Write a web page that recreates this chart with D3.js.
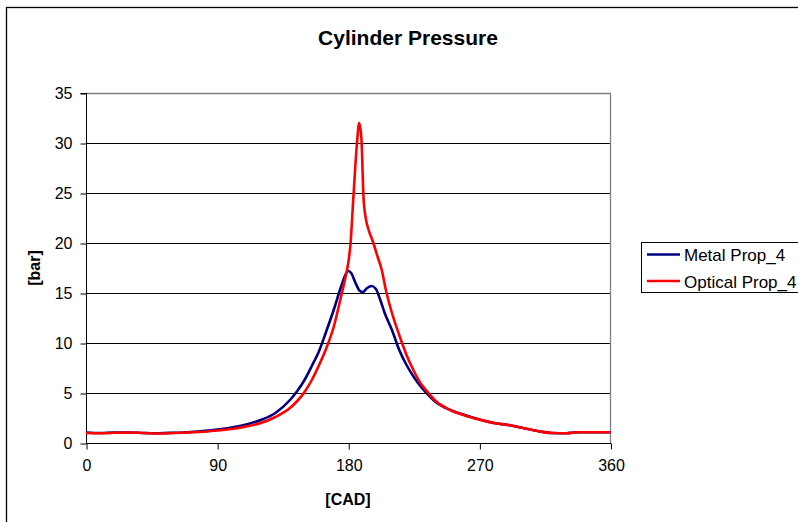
<!DOCTYPE html>
<html><head><meta charset="utf-8">
<script src="https://cdn.jsdelivr.net/npm/d3@7"></script>
<style>html,body{margin:0;padding:0;background:#fff;}svg{display:block;font-family:"Liberation Sans",Arial,sans-serif;}</style>
</head><body>
<svg id="c" width="798" height="522"></svg>
<script>
const title = "Cylinder Pressure";
const xTitle = "[CAD]";
const yTitle = "[bar]";
const xTicks = [0, 90, 180, 270, 360];
const yTicks = [0, 5, 10, 15, 20, 25, 30, 35];
const seriesNames = ["Metal Prop_4", "Optical Prop_4"];
const seriesColors = ["#000080", "#ff0000"];

const metalCad = [0,10,20,30,40,50,60,70,80,90,100,110,120,130,140,145,150,155,160,165,170,175,178,180,182,185,188,190,193,196,199,202,205,210,215,220,225,230,235,240,250,260,270,280,290,300,310,320,330,335,340,360];
const metalBar = [1.05,1.0,1.05,1.05,1.0,0.98,1.02,1.08,1.2,1.35,1.55,1.85,2.3,3.0,4.3,5.2,6.3,7.7,9.2,11.2,13.3,15.6,16.8,17.2,17.0,16.0,15.2,15.1,15.5,15.7,15.4,14.3,13.0,11.3,9.3,7.8,6.6,5.6,4.8,4.1,3.3,2.8,2.35,2.0,1.8,1.5,1.2,1.0,0.97,1.05,1.07,1.07];

const opticalCad = [0,10,20,30,40,50,60,70,80,90,100,110,120,130,140,145,150,155,160,165,170,175,178,180,181.5,183.5,186,187.5,189,190.5,192,194,197,200,203,206,210,215,220,225,230,235,240,250,260,270,280,290,300,310,320,330,335,340,360];
const opticalBar = [1.0,0.98,1.02,1.05,1.0,0.95,1.0,1.05,1.12,1.25,1.4,1.65,2.0,2.6,3.5,4.2,5.1,6.3,7.8,9.5,11.6,14.6,16.5,18.0,19.8,24.5,30.0,32.0,30.5,24.5,22.5,21.3,20.1,18.7,17.3,15.2,13.0,10.8,8.8,7.2,5.9,5.0,4.2,3.3,2.75,2.35,2.0,1.8,1.5,1.2,1.0,0.97,1.05,1.07,1.07];

const svg = d3.select("#c");
const L = 86, R = 610.5, T = 93, B = 443;
const x = d3.scaleLinear().domain([0, 360]).range([L, R]);
const y = d3.scaleLinear().domain([0, 35]).range([B, T]);

// outer chart border
svg.append("rect").attr("x", 6.5).attr("y", 7.5).attr("width", 900).attr("height", 600)
  .attr("fill", "none").attr("stroke", "#000").attr("stroke-width", 1.3);

// gridlines
svg.append("g").selectAll("line").data(yTicks.filter(d => d > 0 && d < 35)).join("line")
  .attr("x1", L).attr("x2", R)
  .attr("y1", d => Math.round(y(d)) + 0.5).attr("y2", d => Math.round(y(d)) + 0.5)
  .attr("stroke", "#000").attr("stroke-width", 1);

// plot border (top & right, grey)
svg.append("path").attr("d", `M${L},${T + 0.5}H${R}V${B}`)
  .attr("fill", "none").attr("stroke", "#808080").attr("stroke-width", 1.3);

// axes
const yAxis = d3.axisLeft(y).tickValues(yTicks).tickSize(6).tickPadding(8).tickFormat(d3.format("d"));
const gy = svg.append("g").attr("transform", `translate(${L + 0.5},0.5)`).call(yAxis);
const xAxis = d3.axisBottom(x).tickValues(xTicks).tickSize(6).tickPadding(10).tickFormat(d3.format("d"));
const gx = svg.append("g").attr("transform", `translate(0.5,${B + 0.5})`).call(xAxis);
[gx, gy].forEach(g => {
  g.select(".domain").attr("stroke", "#000").attr("stroke-width", 1);
  g.selectAll(".tick line").attr("stroke", "#000");
  g.selectAll(".tick text").attr("font-size", 16).attr("fill", "#000")
    .attr("font-family", '"Liberation Sans",Arial,sans-serif');
});
gy.select(".domain").attr("d", `M-6,${T}H0V${B}`);
gx.select(".domain").attr("d", `M${L},0H${R}`);

// lines
const line = d3.line().x(d => x(d[0])).y(d => y(d[1])).curve(d3.curveMonotoneX);
const metal = metalCad.map((c, i) => [c, metalBar[i]]);
const optical = opticalCad.map((c, i) => [c, opticalBar[i]]);
[metal, optical].forEach((data, i) => {
  svg.append("path").datum(data).attr("d", line)
    .attr("fill", "none").attr("stroke", seriesColors[i]).attr("stroke-width", 2.6)
    .attr("stroke-linejoin", "round");
});

// titles
svg.append("text").attr("x", 408).attr("y", 45).attr("text-anchor", "middle")
  .attr("font-size", 21).attr("font-weight", "bold").text(title);
svg.append("text").attr("x", 348).attr("y", 505).attr("text-anchor", "middle")
  .attr("font-size", 16).attr("font-weight", "bold").text(xTitle);
svg.append("text").attr("transform", "translate(40,268) rotate(-90)").attr("text-anchor", "middle")
  .attr("font-size", 16).attr("font-weight", "bold").text(yTitle);

// legend
const lg = svg.append("g");
lg.append("rect").attr("x", 641.5).attr("y", 242.5).attr("width", 200).attr("height", 50)
  .attr("fill", "#fff").attr("stroke", "#000").attr("stroke-width", 1);
seriesNames.forEach((n, i) => {
  const yy = 254.5 + i * 26.5;
  lg.append("line").attr("x1", 647).attr("x2", 680).attr("y1", yy).attr("y2", yy)
    .attr("stroke", seriesColors[i]).attr("stroke-width", 2.6);
  lg.append("text").attr("x", 684).attr("y", yy + 6.5).attr("font-size", 17).text(n);
});
</script>
</body></html>
